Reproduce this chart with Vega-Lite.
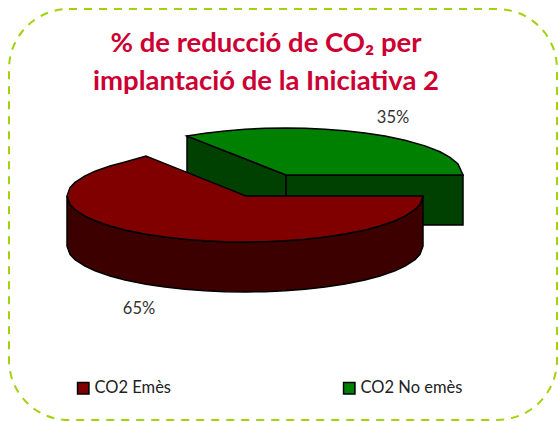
{
"$schema":"https://vega.github.io/schema/vega-lite/v6.json",
"width":558,"height":421,
"autosize":{"type":"fit","contains":"padding"},
"padding":0,
"background":"white",
"view":{"stroke":null},
"title":{"text":["% de reducció de CO₂  per","implantació de la Iniciativa 2"],"orient":"top","anchor":"middle","offset":-95,"dx":-13,"font":"Lato","fontSize":27.5,"fontWeight":"bold","color":"#CC0033","lineHeight":38},
"datasets":{
"frame":[{"x":9,"x2":557,"y":9,"y2":420}],
"greenLeft":[{"x":187,"y":136,"y2":186},{"x":205,"y":143.1,"y2":193.1},{"x":225,"y":151,"y2":201},{"x":245,"y":158.8,"y2":208.8},{"x":265,"y":166.7,"y2":216.7},{"x":286,"y":175,"y2":225}],
"greenRight":[{"x":286,"y":175,"y2":225},{"x":463,"y":175,"y2":225}],
"greenTop":[{"serie":"CO2 No emès","x":187,"y":136,"y2":136},{"serie":"CO2 No emès","x":205,"y":133.2,"y2":143.1},{"serie":"CO2 No emès","x":225,"y":130.9,"y2":151},{"serie":"CO2 No emès","x":245,"y":129.3,"y2":158.8},{"serie":"CO2 No emès","x":265,"y":128.3,"y2":166.7},{"serie":"CO2 No emès","x":286,"y":128,"y2":175},{"serie":"CO2 No emès","x":305,"y":128.3,"y2":175},{"serie":"CO2 No emès","x":325,"y":129.2,"y2":175},{"serie":"CO2 No emès","x":345,"y":130.7,"y2":175},{"serie":"CO2 No emès","x":365,"y":133,"y2":175},{"serie":"CO2 No emès","x":385,"y":136,"y2":175},{"serie":"CO2 No emès","x":405,"y":140.2,"y2":175},{"serie":"CO2 No emès","x":425,"y":145.9,"y2":175},{"serie":"CO2 No emès","x":440,"y":151.8,"y2":175},{"serie":"CO2 No emès","x":450,"y":157.3,"y2":175},{"serie":"CO2 No emès","x":458,"y":163.9,"y2":175},{"serie":"CO2 No emès","x":463,"y":175,"y2":175}],
"redSide":[{"x":67,"y":196,"y2":246},{"x":70,"y":204.4,"y2":254.4},{"x":75,"y":209.6,"y2":259.6},{"x":85,"y":216.2,"y2":266.2},{"x":95,"y":220.8,"y2":270.8},{"x":110,"y":226,"y2":276},{"x":125,"y":230,"y2":280},{"x":146,"y":234.2,"y2":284.2},{"x":165,"y":237.1,"y2":287.1},{"x":185,"y":239.3,"y2":289.3},{"x":205,"y":240.8,"y2":290.8},{"x":225,"y":241.7,"y2":291.7},{"x":246,"y":242,"y2":292},{"x":265,"y":241.7,"y2":291.7},{"x":285,"y":240.8,"y2":290.8},{"x":305,"y":239.3,"y2":289.3},{"x":325,"y":237.1,"y2":287.1},{"x":345,"y":234,"y2":284},{"x":365,"y":230,"y2":280},{"x":380,"y":226,"y2":276},{"x":395,"y":220.8,"y2":270.8},{"x":405,"y":216.2,"y2":266.2},{"x":415,"y":209.6,"y2":259.6},{"x":420,"y":204.4,"y2":254.4},{"x":423,"y":196,"y2":246}],
"redTop":[{"serie":"CO2 Emès","x":67,"y":196,"y2":196},{"serie":"CO2 Emès","x":70,"y":187.6,"y2":204.4},{"serie":"CO2 Emès","x":75,"y":182.4,"y2":209.6},{"serie":"CO2 Emès","x":85,"y":175.8,"y2":216.2},{"serie":"CO2 Emès","x":95,"y":171.2,"y2":220.8},{"serie":"CO2 Emès","x":110,"y":166,"y2":226},{"serie":"CO2 Emès","x":125,"y":162,"y2":230},{"serie":"CO2 Emès","x":146,"y":156,"y2":234.2},{"serie":"CO2 Emès","x":165,"y":163.6,"y2":237.1},{"serie":"CO2 Emès","x":185,"y":171.6,"y2":239.3},{"serie":"CO2 Emès","x":205,"y":179.6,"y2":240.8},{"serie":"CO2 Emès","x":225,"y":187.6,"y2":241.7},{"serie":"CO2 Emès","x":246,"y":196,"y2":242},{"serie":"CO2 Emès","x":265,"y":196,"y2":241.7},{"serie":"CO2 Emès","x":285,"y":196,"y2":240.8},{"serie":"CO2 Emès","x":305,"y":196,"y2":239.3},{"serie":"CO2 Emès","x":325,"y":196,"y2":237.1},{"serie":"CO2 Emès","x":345,"y":196,"y2":234},{"serie":"CO2 Emès","x":365,"y":196,"y2":230},{"serie":"CO2 Emès","x":380,"y":196,"y2":226},{"serie":"CO2 Emès","x":395,"y":196,"y2":220.8},{"serie":"CO2 Emès","x":405,"y":196,"y2":216.2},{"serie":"CO2 Emès","x":415,"y":196,"y2":209.6},{"serie":"CO2 Emès","x":420,"y":196,"y2":204.4},{"serie":"CO2 Emès","x":423,"y":196,"y2":196}],
"shares":[{"serie":"CO2 Emès","share":0.65,"x":139,"y":309},{"serie":"CO2 No emès","share":0.35,"x":393,"y":118}]
},
"encoding":{
"x":{"field":"x","type":"quantitative","scale":{"domain":[0,558],"nice":false,"zero":false},"axis":null},
"y":{"field":"y","type":"quantitative","scale":{"domain":[421,0],"nice":false,"zero":false},"axis":null}
},
"layer":[
{"data":{"name":"frame"},"mark":{"type":"rect","fill":"transparent","stroke":"#A2D20E","strokeWidth":2,"strokeDash":[8,7],"cornerRadius":60},"encoding":{"x2":{"field":"x2"},"y2":{"field":"y2"}}},
{"data":{"name":"greenLeft"},"mark":{"type":"area","fill":"#004000","stroke":"black","strokeWidth":1.5},"encoding":{"y2":{"field":"y2"}}},
{"data":{"name":"greenRight"},"mark":{"type":"area","fill":"#004000","stroke":"black","strokeWidth":1.5},"encoding":{"y2":{"field":"y2"}}},
{"data":{"name":"greenTop"},"mark":{"type":"area","stroke":"black","strokeWidth":1.5,"opacity":1},"encoding":{"y2":{"field":"y2"},"color":{"field":"serie","type":"nominal","scale":{"domain":["CO2 Emès","CO2 No emès"],"range":["#800000","#008000"]},"legend":{"title":null,"orient":"none","legendX":75,"legendY":380,"direction":"horizontal","columns":2,"columnPadding":168,"symbolType":"square","symbolSize":130,"symbolStrokeColor":"black","symbolStrokeWidth":1.5,"symbolOpacity":1,"labelFont":"Lato","labelFontSize":16.5,"labelColor":"#222222","labelOffset":3}}}},
{"data":{"name":"redSide"},"mark":{"type":"area","fill":"#3C0000","stroke":"black","strokeWidth":1.5},"encoding":{"y2":{"field":"y2"}}},
{"data":{"name":"redTop"},"mark":{"type":"area","stroke":"black","strokeWidth":1.5,"opacity":1},"encoding":{"y2":{"field":"y2"},"color":{"field":"serie","type":"nominal"}}},
{"data":{"name":"shares"},"mark":{"type":"text","font":"Lato","fontSize":16.5,"color":"#333333","align":"center","baseline":"middle"},"encoding":{"text":{"field":"share","type":"quantitative","format":".0%"}}}
]
}
